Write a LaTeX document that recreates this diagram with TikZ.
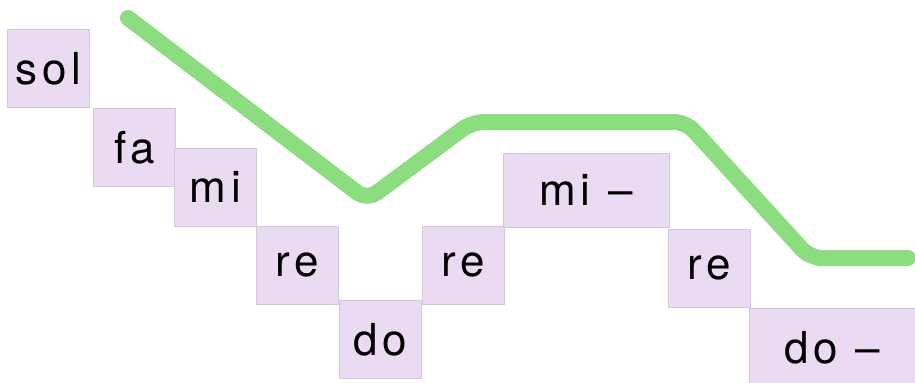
\documentclass[tikz,border=0pt]{standalone}
\usepackage{fontspec}
\setmainfont{TeX Gyre Heros}
\newfontfamily\sylfont[LetterSpace=10]{TeX Gyre Heros}
\usetikzlibrary{positioning}
\definecolor{sylbg}{RGB}{234,219,243}
\definecolor{sylline}{RGB}{214,198,226}
\definecolor{tunegreen}{RGB}{140,220,128}

\begin{document}
\begin{tikzpicture}[
		x=0.5pt, y=-0.5pt,
		syl/.style={draw=sylline, fill=sylbg, anchor=north west, inner sep=0pt,
			minimum width=41pt, minimum height=39pt, font=\sylfont\fontsize{22}{24}\selectfont},
		wide/.style={minimum width=83pt},
		tune/.style={draw=tunegreen, line width=8pt, line cap=round, line join=round, rounded corners=6pt}
		]
		\useasboundingbox (0,0) rectangle (915,382);
		
		\node[syl] (sol) at (7,29) {sol};
		\node[syl] (fa) at (93,108) {fa};
		\node[syl] (mi) at (174,148) {mi};
		\node[syl] (re) at (256,226) {re};
		\node[syl] (do) at (339,300) {do};
		\node[syl] (reB) at (422,226) {re};
		\node[syl, wide, minimum height=37pt] (miLong) at (503,153) {mi\hspace{9pt}\textendash};
		\node[syl] (reC) at (668,229) {re};
		\node[syl, wide] (doLong) at (749,308) {do\hspace{9pt}\textendash};
		
		% melody contour
		\draw[tune] (128,18) -- (367,200) -- (472,122) -- (686,122) -- (810,258) -- (908,258);
	\end{tikzpicture}
\end{document}
